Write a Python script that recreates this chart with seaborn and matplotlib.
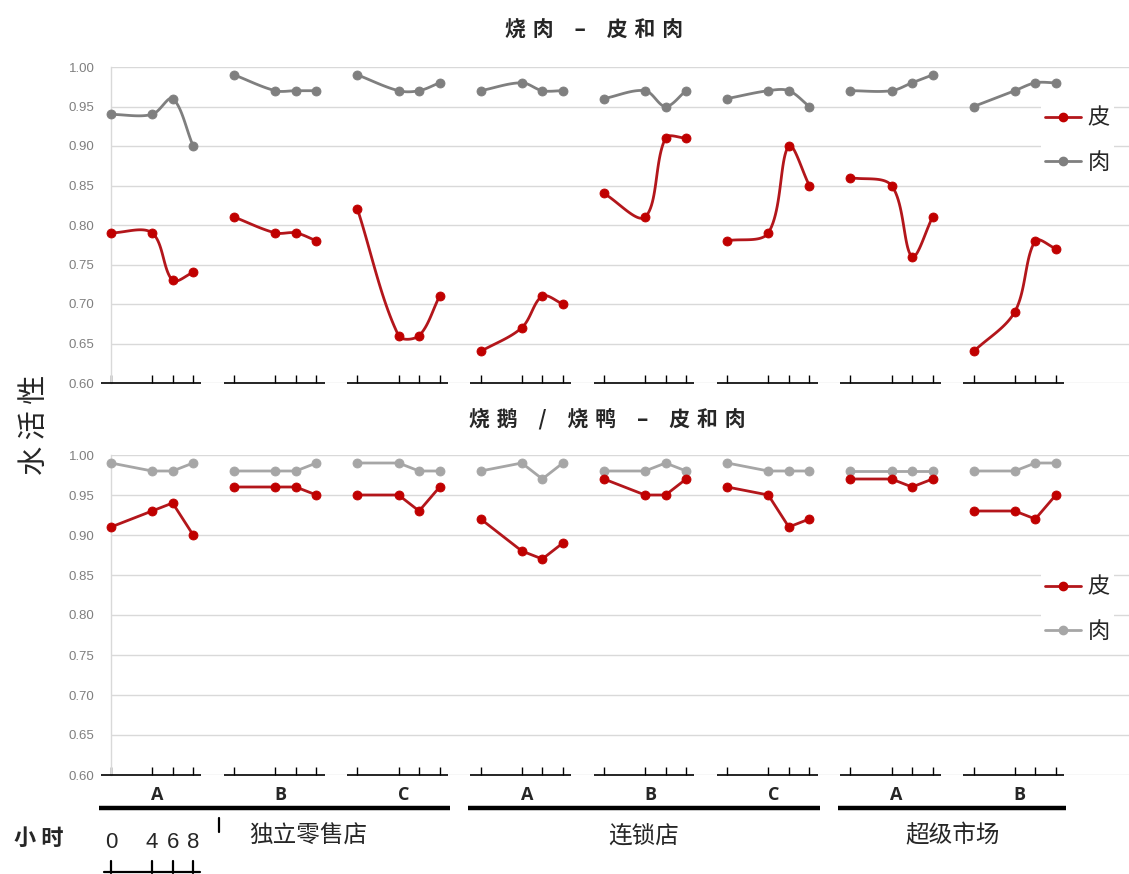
import numpy as np
import pandas as pd
import matplotlib
matplotlib.use('Agg')
import matplotlib.pyplot as plt
import matplotlib.transforms as mtransforms
from matplotlib.lines import Line2D
import seaborn as sns

# ---------------- data ----------------
hours = [0, 4, 6, 8]
shops = ['A', 'B', 'C', 'A', 'B', 'C', 'A', 'B']
store_types = ['独立零售店', '连锁店', '超级市场']
store_members = [[0, 1, 2], [3, 4, 5], [6, 7]]
series_names = ['皮', '肉']

# 烧肉 (roast pork)
pork_skin = [
    [0.79, 0.79, 0.73, 0.74],
    [0.81, 0.79, 0.79, 0.78],
    [0.82, 0.66, 0.66, 0.71],
    [0.64, 0.67, 0.71, 0.70],
    [0.84, 0.81, 0.91, 0.91],
    [0.78, 0.79, 0.90, 0.85],
    [0.86, 0.85, 0.76, 0.81],
    [0.64, 0.69, 0.78, 0.77],
]
pork_meat = [
    [0.94, 0.94, 0.96, 0.90],
    [0.99, 0.97, 0.97, 0.97],
    [0.99, 0.97, 0.97, 0.98],
    [0.97, 0.98, 0.97, 0.97],
    [0.96, 0.97, 0.95, 0.97],
    [0.96, 0.97, 0.97, 0.95],
    [0.97, 0.97, 0.98, 0.99],
    [0.95, 0.97, 0.98, 0.98],
]
# 烧鹅 / 烧鸭 (roast goose / duck)
goose_skin = [
    [0.91, 0.93, 0.94, 0.90],
    [0.96, 0.96, 0.96, 0.95],
    [0.95, 0.95, 0.93, 0.96],
    [0.92, 0.88, 0.87, 0.89],
    [0.97, 0.95, 0.95, 0.97],
    [0.96, 0.95, 0.91, 0.92],
    [0.97, 0.97, 0.96, 0.97],
    [0.93, 0.93, 0.92, 0.95],
]
goose_meat = [
    [0.99, 0.98, 0.98, 0.99],
    [0.98, 0.98, 0.98, 0.99],
    [0.99, 0.99, 0.98, 0.98],
    [0.98, 0.99, 0.97, 0.99],
    [0.98, 0.98, 0.99, 0.98],
    [0.99, 0.98, 0.98, 0.98],
    [0.98, 0.98, 0.98, 0.98],
    [0.98, 0.98, 0.99, 0.99],
]
y_ticks = [0.60, 0.65, 0.70, 0.75, 0.80, 0.85, 0.90, 0.95, 1.00]

# ---------------- style ----------------
GROUP_STEP = 12
W, H = 1129, 874
RED_LINE, RED_MARK = '#B3161B', '#C00000'
GREY_TOP, GREY_BOT = '#7F7F7F', '#A6A6A6'

sns.set_theme(style='white')
plt.rcParams['font.family'] = ['Noto Sans CJK SC', 'DejaVu Sans']
plt.rcParams['axes.unicode_minus'] = False

X0_PX, PX_PER_H = 111, 10.27
PX_PER_UNIT_Y = 316 / 0.4


def long_frame(skin, meat):
    rows = []
    for name, arr in zip(series_names, [skin, meat]):
        for g, vals in enumerate(arr):
            for h, v in zip(hours, vals):
                rows.append(dict(series=name, group=g, x=g * GROUP_STEP + h, value=v))
    return pd.DataFrame(rows)


def smooth_frame(df, n=24):
    """Excel-like smoothed line through the data points (length-weighted Bezier)."""
    out = []
    scale = np.array([PX_PER_H, PX_PER_UNIT_Y])
    for g, sub in df.groupby('group'):
        P = sub[['x', 'value']].to_numpy(float) * scale
        t = np.linspace(0, 1, n)[:, None]
        m = len(P)
        for i in range(m - 1):
            p0, p1, p2 = P[max(i - 1, 0)], P[i], P[i + 1]
            p3 = P[min(i + 2, m - 1)]
            d01 = np.linalg.norm(p1 - p0)
            d12 = np.linalg.norm(p2 - p1)
            d23 = np.linalg.norm(p3 - p2)
            c1 = p1 + (p2 - p0) * (d12 / (d01 + d12)) / 3.0
            c2 = p2 - (p3 - p1) * (d12 / (d12 + d23)) / 3.0
            seg = (1 - t) ** 3 * p1 + 3 * (1 - t) ** 2 * t * c1 + 3 * (1 - t) * t ** 2 * c2 + t ** 3 * p2
            seg = seg / scale
            if i > 0:
                seg = seg[1:]
            for xx, yy in seg:
                out.append(dict(group=g, x=xx, value=yy))
    return pd.DataFrame(out)


fig = plt.figure(figsize=(W / 100, H / 100), dpi=100)


def fx(px):
    return px / W


def fy(py):
    return 1 - py / H


xmax = (W - X0_PX) / PX_PER_H

ax1 = fig.add_axes([fx(X0_PX), fy(383), 1 - fx(X0_PX), fy(67) - fy(383)])
ax2 = fig.add_axes([fx(X0_PX), fy(775), 1 - fx(X0_PX), fy(455) - fy(775)])

panels = [
    (ax1, long_frame(pork_skin, pork_meat), GREY_TOP, True, 140),
    (ax2, long_frame(goose_skin, goose_meat), GREY_BOT, False, 609),
]

xt = [g * GROUP_STEP + h for g in range(len(shops)) for h in hours]

for ax, df, grey, smooth, leg_y in panels:
    colors = {'皮': (RED_LINE, RED_MARK), '肉': (grey, grey)}
    for name in ['肉', '皮']:
        sub = df[df.series == name]
        lc, mc = colors[name]
        line_df = smooth_frame(sub) if smooth else sub
        sns.lineplot(data=line_df, x='x', y='value', units='group', estimator=None,
                     sort=False, color=lc, lw=2.0, ax=ax, legend=False, zorder=3)
        sns.scatterplot(data=sub, x='x', y='value', color=mc, s=42, edgecolor=mc,
                        linewidth=0.6, ax=ax, legend=False, zorder=4, clip_on=False)

    ax.set_xlim(0, xmax)
    ax.set_ylim(0.60, 1.00)
    ax.set_yticks(y_ticks)
    ax.set_yticklabels([f'{v:.2f}' for v in y_ticks], color='#7F7F7F',
                       fontsize=9.5, family=['Liberation Sans'])
    ax.set_xticks(xt)
    ax.set_xticklabels([])
    ax.tick_params(axis='x', direction='in', length=6, width=1, color='black',
                   bottom=True, labelbottom=False)
    ax.tick_params(axis='y', length=0, pad=12)
    ax.yaxis.grid(True, color='#D9D9D9', lw=1)
    ax.set_axisbelow(True)
    for s in ['top', 'right', 'bottom']:
        ax.spines[s].set_visible(False)
    ax.spines['left'].set_color('#D9D9D9')
    ax.spines['left'].set_linewidth(1)
    ax.set_xlabel('')
    ax.set_ylabel('')
    for g in range(len(shops)):
        ax.hlines(0.60, g * GROUP_STEP - 1.0, g * GROUP_STEP + 8.8, color='black',
                  lw=1.2, zorder=5, clip_on=False)

    handles = [Line2D([], [], color=colors[n][0], lw=2, marker='o', markersize=6,
                      markerfacecolor=colors[n][1], markeredgecolor=colors[n][1])
               for n in series_names]
    fig.legend(handles, series_names, loc='center left',
               bbox_to_anchor=(fx(1041), fy(leg_y)), frameon=True, framealpha=1,
               facecolor='white', edgecolor='none', fontsize=16, handlelength=1.6,
               handletextpad=0.3, labelspacing=0.95, borderpad=0.2, borderaxespad=0)

# titles
SP = '\u2004'
EM = '\u3000'
fig.text(fx(594), fy(30), f'烧{SP}肉{EM}–{EM}皮{SP}和{SP}肉', ha='center', va='center',
         fontsize=15, fontweight='bold')
fig.text(fx(607), fy(420), f'烧{SP}鹅{EM}/{EM}烧{SP}鸭{EM}–{EM}皮{SP}和{SP}肉', ha='center',
         va='center', fontsize=15, fontweight='bold')
fig.text(fx(35), fy(425), '水 活 性', ha='center', va='center', rotation=90,
         fontsize=21)

# bottom annotations (x in data hours, y in figure)
blend = mtransforms.blended_transform_factory(ax2.transData, fig.transFigure)
for g, s in enumerate(shops):
    ax2.text(g * GROUP_STEP + 4.5, fy(795), s, transform=blend, ha='center',
             va='center', fontsize=13, fontweight='bold', family=['Open Sans', 'DejaVu Sans'])

label_shift = [3.3, 0.0, 0.0]
for name, members, sh in zip(store_types, store_members, label_shift):
    x0 = members[0] * GROUP_STEP - 1.2
    x1 = members[-1] * GROUP_STEP + 9.0
    ax2.plot([x0, x1], [fy(808), fy(808)], transform=blend, color='black', lw=3.2,
             solid_capstyle='butt', clip_on=False)
    ax2.text((x0 + x1) / 2 + sh, fy(836), name, transform=blend, ha='center',
             va='center', fontsize=17, fontweight='medium')

# hours key
fig.text(fx(39), fy(838), '小 时', ha='center', va='center', fontsize=16, fontweight='bold')
for h in hours:
    ax2.text(h, fy(843), str(h), transform=blend, ha='center', va='center',
             fontsize=16, family=['Liberation Sans'])
    ax2.plot([h, h], [fy(861), fy(873)], transform=blend, color='black', lw=1.6,
             clip_on=False)
ax2.plot([hours[0] - 0.7, hours[-1] + 0.7], [fy(872), fy(872)], transform=blend,
         color='black', lw=1.6, clip_on=False)
ax2.plot([10.5, 10.5], [fy(818), fy(832)], transform=blend, color='black', lw=1.6,
         clip_on=False)

fig.savefig('out.png', dpi=100)
